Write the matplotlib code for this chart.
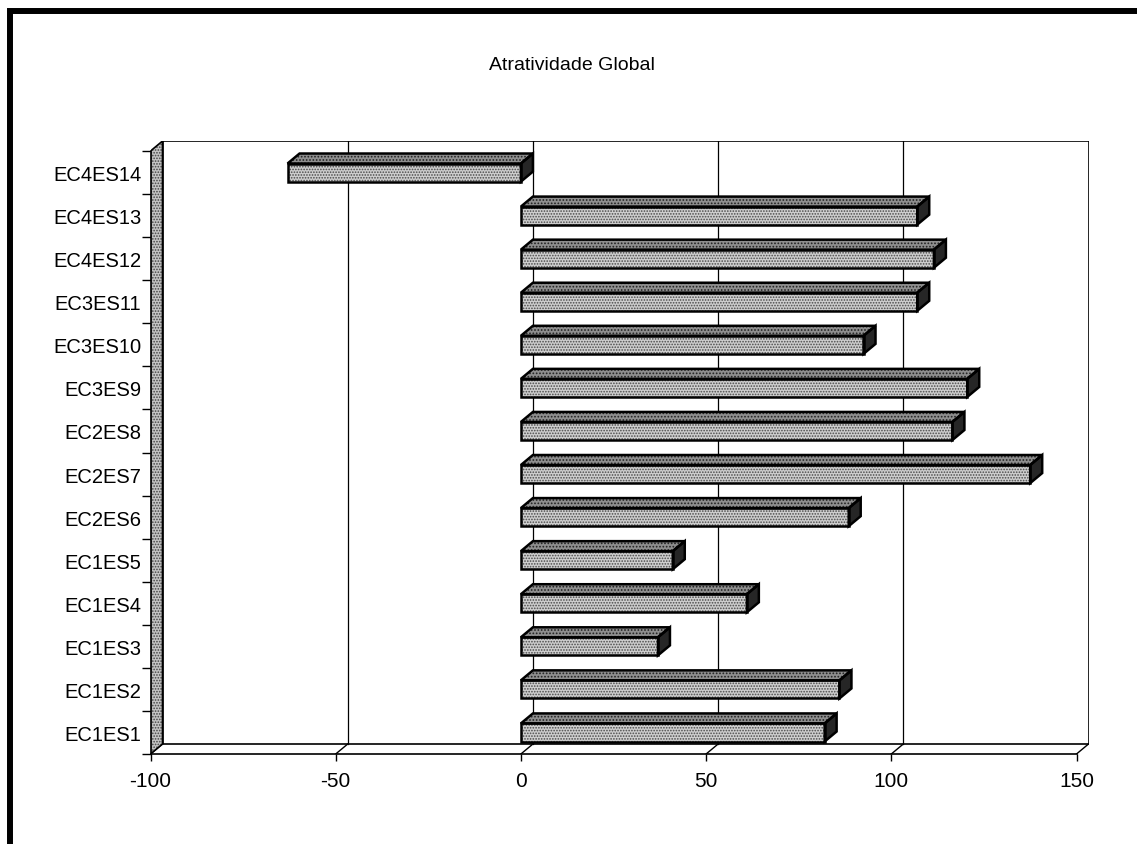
import matplotlib
matplotlib.use("Agg")
import matplotlib.pyplot as plt
from matplotlib.patches import Polygon, Rectangle
import numpy as np

plt.rcParams['font.family'] = ['Liberation Sans', 'DejaVu Sans']
plt.rcParams['axes.unicode_minus'] = False
plt.rcParams['hatch.linewidth'] = 0.8

# ---- data -------------------------------------------------------------
categories = ["EC1ES1", "EC1ES2", "EC1ES3", "EC1ES4", "EC1ES5",
              "EC2ES6", "EC2ES7", "EC2ES8", "EC3ES9", "EC3ES10",
              "EC3ES11", "EC4ES12", "EC4ES13", "EC4ES14"]
scores = [82, 86, 37, 61, 41, 88.5, 137.5, 116.5, 120.5, 92.5,
          107, 111.5, 107, -63]
x_ticks = [-100, -50, 0, 50, 100, 150]
x_tick_labels = ["-100", "-50", "0", "50", "100", "150"]
title = "Atratividade Global"

# ---- 3-D look parameters (oblique projection) ---------------------------
DX = 3.24    # depth shift along value axis (value units)
DY = 0.232   # depth shift along category axis (category units)
BAR_H = 0.42
X_MIN, X_MAX = x_ticks[0], x_ticks[-1]
n = len(categories)
Y_LO, Y_HI = -0.5, n - 0.5

W, H = 1137, 845
fig = plt.figure(figsize=(W / 100, H / 100), dpi=100)
fig.patch.set_facecolor('white')

px_per_unit = 3.704
left_px, floor_px = 150.5, 755
width_px = (X_MAX - X_MIN + DX) * px_per_unit
cat_px = 43.07
height_px = (n + DY) * cat_px
ax = fig.add_axes([left_px / W, (H - floor_px) / H, width_px / W, height_px / H])
ax.set_xlim(X_MIN, X_MAX + DX)
ax.set_ylim(Y_LO, Y_HI + DY)
ax.patch.set_visible(False)

for s in ('top', 'right'):
    ax.spines[s].set_visible(False)
ax.spines['bottom'].set_bounds(X_MIN, X_MAX)
ax.spines['left'].set_bounds(Y_LO, Y_HI)
ax.spines['bottom'].set_linewidth(1.2)
ax.spines['left'].set_linewidth(1.2)
ax.spines['bottom'].set_zorder(5)
ax.spines['left'].set_zorder(5)

ax.set_xticks(x_ticks)
ax.set_xticklabels(x_tick_labels, fontsize=15)
ax.tick_params(axis='x', direction='out', length=5, width=1, pad=7)

ax.set_yticks(np.arange(n))
ax.set_yticklabels(categories, fontsize=14.5)
ax.set_yticks(np.arange(n + 1) - 0.5, minor=True)
ax.tick_params(axis='y', which='major', length=0, pad=6.5)
ax.tick_params(axis='y', which='minor', direction='out', length=6.5, width=1)

# back wall with gridlines
ax.add_patch(Rectangle((X_MIN + DX, Y_LO + DY), X_MAX - X_MIN, n,
                       facecolor='white', edgecolor='black', lw=1.2, zorder=1))
for v in x_ticks[1:-1]:
    ax.plot([v + DX, v + DX], [Y_LO + DY, Y_HI + DY], color='black', lw=0.9, zorder=1.5)

# floor depth lines
for v in x_ticks:
    ax.plot([v, v + DX], [Y_LO, Y_LO + DY], color='black', lw=1.0, zorder=2)

# side wall (left)
wall = [(X_MIN, Y_LO), (X_MIN + DX, Y_LO + DY), (X_MIN + DX, Y_HI + DY), (X_MIN, Y_HI)]
ax.add_patch(Polygon(wall, closed=True, facecolor='#c4c4c4', edgecolor='#444444',
                     hatch='......', lw=0, zorder=2))
ax.add_patch(Polygon(wall, closed=True, fill=False, edgecolor='black', lw=1.2, zorder=2.1))

# bars: front face via barh, then top and end faces
ypos = np.arange(n)
lefts = np.minimum(0, scores)
widths = np.abs(scores)
ax.barh(ypos, widths, left=lefts, height=BAR_H, color='#cecece',
        edgecolor='#4a4a4a', hatch='......', lw=0, zorder=3)
ax.barh(ypos, widths, left=lefts, height=BAR_H, fill=False,
        edgecolor='black', lw=1.8, zorder=3.3)

for i, v in enumerate(scores):
    lo, hi = min(0, v), max(0, v)
    top_y = i + BAR_H / 2
    bot_y = i - BAR_H / 2
    top = [(lo, top_y), (hi, top_y), (hi + DX, top_y + DY), (lo + DX, top_y + DY)]
    side = [(hi, bot_y), (hi, top_y), (hi + DX, top_y + DY), (hi + DX, bot_y + DY)]
    ax.add_patch(Polygon(top, closed=True, facecolor='#8e8e8e', edgecolor='#222222',
                         hatch='.....', lw=0, zorder=3))
    ax.add_patch(Polygon(top, closed=True, fill=False, edgecolor='black', lw=1.8, zorder=3.3))
    ax.add_patch(Polygon(side, closed=True, facecolor='#262626', edgecolor='black',
                         lw=1.8, zorder=3.2))

fig.text(572 / W, 1 - 65 / H, title, ha='center', va='center', fontsize=14)

# outer frame
fig.patches.append(Rectangle((10 / W, -0.2), 1.5, 1.2 - 12 / H, fill=False,
                             edgecolor='black', lw=4.3, transform=fig.transFigure,
                             figure=fig))

fig.savefig('out.png', dpi=100)
